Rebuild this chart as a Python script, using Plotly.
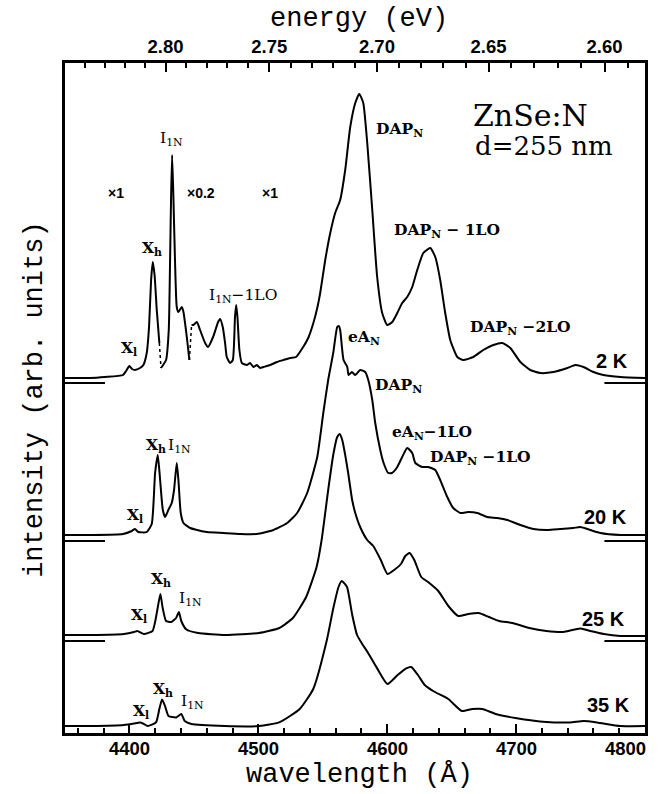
import plotly.graph_objects as go

# ---------------- data ----------------
# wavelength in Angstrom, intensity above each spectrum's zero line (arb. units)

# 2 K spectrum, split in three parts (middle part shown x0.2)
wl_2K_a = [4350, 4369.4, 4381.1, 4395.0, 4397.4, 4399.9, 4402.0, 4404.3, 4408.2, 4410.8,
           4413.4, 4415.2, 4416.8, 4418.1, 4419.5, 4421.2, 4423.2]
int_2K_a = [5, 5, 6, 8, 12, 17, 14, 13, 15, 18, 30, 56, 103, 121, 108, 73, 40]

wl_2K_b = [4424.5, 4428.4, 4430.5, 4431.5, 4432.3, 4433.1, 4434.1, 4435.4, 4436.7, 4438.0,
           4440.6, 4441.9, 4444.5, 4446.5]
int_2K_b = [75, 115, 265, 600, 930, 1140, 930, 600, 380, 355, 380, 355, 230, 115]
scale_2K_b = 0.2

wl_2K_c = [4448.2, 4449.6, 4452.3, 4454.8, 4458.7, 4461.0, 4464.9, 4468.8, 4470.3, 4472.4,
           4474.2, 4475.5, 4478.1, 4480.2, 4481.9, 4482.8, 4483.8, 4485.3, 4487.2, 4491.1,
           4493.6, 4496.2, 4498.8, 4501.4, 4504.0, 4509.2, 4514.4, 4519.5, 4524.7, 4529.3,
           4534.8, 4538.7, 4542.7, 4545.7, 4548.0, 4551.9, 4555.8, 4559.6, 4563.5, 4567.4,
           4571.3, 4575.2, 4578.3, 4581.4, 4584.5, 4588.4, 4592.2, 4596.1, 4600.0, 4603.9,
           4607.8, 4611.6, 4615.5, 4619.4, 4623.3, 4628.0, 4633.4, 4637.3, 4641.1, 4645.0,
           4648.9, 4654.4, 4659.0, 4666.8, 4674.5, 4682.3, 4689.3, 4695.5, 4703.3, 4711.0,
           4718.8, 4728.9, 4739.8, 4746.0, 4752.2, 4760.0, 4767.7, 4780.9, 4800]
int_2K_c = [58, 58, 61, 53, 40, 36, 46, 61, 64, 56,
            40, 26, 20, 23, 66, 78, 66, 33, 20, 18,
            20, 16, 18, 15, 16, 18, 21, 23, 25, 26,
            36, 45, 60, 75, 90, 123, 150, 170, 183, 213,
            256, 280, 289, 280, 240, 173, 106, 70, 58, 61,
            70, 80, 86, 96, 113, 130, 135, 126, 103, 70,
            43, 26, 23, 26, 33, 38, 40, 35, 21, 13,
            10, 11, 15, 18, 16, 11, 8, 6, 5]

wl_20K = [4350, 4369.4, 4395.0, 4401.8, 4404.3, 4406.9, 4413.4, 4417.3, 4419.9, 4422.0,
          4423.8, 4425.9, 4427.7, 4430.2, 4432.8, 4434.6, 4436.7, 4438.0, 4439.8, 4441.9,
          4447.1, 4460.0, 4472.9, 4485.9, 4498.8, 4511.7, 4522.4, 4530.1, 4537.9, 4545.7,
          4550.4, 4554.2, 4558.1, 4561.2, 4562.4, 4563.5, 4566.1, 4569.0, 4570.0, 4572.6,
          4575.2, 4579.0, 4582.9, 4585.3, 4588.4, 4590.7, 4594.6, 4597.2, 4600.8, 4603.7,
          4607.8, 4611.6, 4615.5, 4619.4, 4621.8, 4627.2, 4631.9, 4637.3, 4641.1, 4646.6,
          4651.2, 4656.7, 4662.9, 4669.9, 4677.6, 4685.4, 4693.2, 4703.3, 4713.4, 4724.2,
          4734.3, 4744.4, 4749.8, 4757.6, 4765.4, 4780.9, 4800]
int_20K = [6, 6, 7, 10, 12, 9, 9, 17, 68, 86,
           61, 31, 24, 31, 38, 51, 78, 61, 28, 18,
           13, 9, 8, 7, 7, 11, 18, 28, 48, 84,
           128, 161, 188, 214, 215, 211, 181, 174, 166, 169,
           166, 171, 169, 161, 141, 118, 91, 78, 68, 68,
           74, 84, 93, 88, 78, 74, 74, 71, 61, 44,
           33, 28, 29, 28, 24, 23, 21, 16, 12, 11,
           12, 13, 14, 11, 8, 6, 6]

wl_25K = [4350, 4369.4, 4395.7, 4403.6, 4406.1, 4411.3, 4417.9, 4419.9, 4421.9, 4424.0,
          4425.8, 4428.4, 4432.3, 4436.2, 4438.4, 4440.2, 4444.2, 4453.3, 4474.2, 4500.6,
          4516.3, 4526.8, 4537.1, 4545.2, 4549.1, 4554.2, 4558.1, 4561.2, 4563.1, 4565.1,
          4567.4, 4569.7, 4572.8, 4575.2, 4579.0, 4584.5, 4589.2, 4595.0, 4600.2, 4605.4,
          4610.7, 4614.0, 4617.3, 4621.0, 4626.4, 4631.7, 4639.6, 4647.4, 4655.1, 4662.9,
          4671.0, 4678.9, 4686.8, 4697.0, 4710.2, 4723.5, 4736.6, 4749.9, 4757.6, 4768.1,
          4780.9, 4800]
int_25K = [6, 6, 7, 9, 10, 7, 10, 19, 33, 47,
           33, 20, 19, 23, 29, 20, 11.5, 8, 6, 8,
           13, 23, 44, 74, 101, 151, 186, 204, 207, 201,
           186, 168, 141, 128, 114, 101, 95, 81, 67, 71,
           77, 85, 88, 81, 64, 59, 50, 35, 25, 27,
           28, 24, 20, 18, 13, 10, 9, 12.5, 10, 7,
           5, 5]

wl_35K = [4350, 4369.4, 4395.7, 4405.9, 4408.8, 4414.1, 4420.6, 4423.2, 4425.3, 4427.6,
          4430.3, 4436.3, 4440.2, 4442.9, 4448.1, 4474.2, 4500.6, 4516.1, 4532.1, 4542.6,
          4553.0, 4558.2, 4562.2, 4564.8, 4568.8, 4572.7, 4576.6, 4580.6, 4584.5, 4592.2,
          4600.2, 4608.1, 4614.7, 4618.6, 4623.8, 4629.1, 4637.0, 4647.4, 4657.9, 4666.0,
          4673.8, 4684.2, 4699.4, 4723.5, 4741.8, 4752.3, 4762.8, 4780.9, 4800]
int_35K = [5, 5, 6, 8, 8.6, 5, 8.6, 22, 31.5, 25,
           15, 13.6, 17, 10, 7, 5, 5, 8.6, 22, 42,
           90, 123, 144, 150, 144, 117, 96, 87, 79.5, 62.6,
           47, 56, 62.6, 64, 56, 46, 39, 32, 20, 22,
           22, 17, 13, 9, 8.6, 10, 8.6, 5, 5]

temperatures = ["2 K", "20 K", "25 K", "35 K"]
offsets = [350, 192, 92, 2]          # vertical offset of each spectrum's zero line

wl_ticks = [4400, 4500, 4600, 4700, 4800]
wl_minor = [4360, 4380, 4420, 4440, 4460, 4480, 4520, 4540, 4560, 4580, 4620, 4640,
            4660, 4680, 4720, 4740, 4760, 4780]
energy_ticks = [2.80, 2.75, 2.70, 2.65, 2.60]
energy_minor = [2.84, 2.83, 2.82, 2.81, 2.79, 2.78, 2.77, 2.76, 2.74, 2.73, 2.72, 2.71,
                2.69, 2.68, 2.67, 2.66, 2.64, 2.63, 2.62, 2.61, 2.59]
HC = 12398.4  # eV*Angstrom

# ---------------- figure ----------------
fig = go.Figure()


def add_curve(x, y, dash="solid", width=2, xaxis="x"):
    fig.add_trace(go.Scatter(x=x, y=y, mode="lines", xaxis=xaxis,
                             line=dict(color="black", width=width, dash=dash,
                                       shape="spline", smoothing=0.5),
                             showlegend=False, hoverinfo="skip"))


o2 = offsets[0]
ya = [v + o2 for v in int_2K_a]
yb = [v * scale_2K_b + o2 for v in int_2K_b]
yc = [v + o2 for v in int_2K_c]
add_curve(wl_2K_a, ya)
add_curve(wl_2K_b, yb)
add_curve(wl_2K_c, yc)
add_curve([wl_2K_a[-1], wl_2K_b[0]], [ya[-1], yb[0]], dash="dot", width=1.5)
add_curve([wl_2K_b[-1], wl_2K_c[0]], [yb[-1], yc[0]], dash="dot", width=1.5)

for wl, it, off in [(wl_20K, int_20K, offsets[1]), (wl_25K, int_25K, offsets[2]),
                    (wl_35K, int_35K, offsets[3])]:
    add_curve(wl, [v + off for v in it])

# zero-line markers at both sides
for off in offsets[:3]:
    for xs in ([4350, 4381], [4768.5, 4800]):
        fig.add_trace(go.Scatter(x=xs, y=[off, off], mode="lines",
                                 line=dict(color="black", width=2),
                                 showlegend=False, hoverinfo="skip"))
# invisible trace to activate the top energy axis
fig.add_trace(go.Scatter(x=[4350, 4800], y=[0, 0], mode="lines", xaxis="x2",
                         line=dict(color="rgba(0,0,0,0)", width=0),
                         showlegend=False, hoverinfo="skip"))

TICKFONT = dict(family="Liberation Sans", size=18.5, color="black", weight="bold")

fig.update_layout(
    width=668, height=794,
    margin=dict(l=65, r=23, t=63, b=61),
    paper_bgcolor="white", plot_bgcolor="white",
    xaxis=dict(range=[4350, 4800], showline=True, linewidth=2.5, linecolor="black",
               ticks="inside", tickvals=wl_ticks, ticklen=9, tickwidth=1.5, tickcolor="black",
               showticklabels=False, showgrid=False, zeroline=False,
               minor=dict(tickvals=wl_minor, ticks="inside", ticklen=5, tickwidth=1.5,
                          tickcolor="black", showgrid=False)),
    xaxis2=dict(range=[4350, 4800], overlaying="x", side="top", showline=True,
                linewidth=2.5, linecolor="black", ticks="inside",
                tickvals=[HC / e for e in energy_ticks],
                ticktext=["%.2f" % e for e in energy_ticks],
                ticklen=9, tickwidth=1.5, tickcolor="black", tickfont=TICKFONT,
                showgrid=False, zeroline=False,
                minor=dict(tickvals=[HC / e for e in energy_minor], ticks="inside",
                           ticklen=5, tickwidth=1.5, tickcolor="black", showgrid=False)),
    yaxis=dict(range=[0, 670], showline=True, mirror=True, linewidth=2.5, linecolor="black",
               showticklabels=False, ticks="", showgrid=False, zeroline=False),
)

ann = []
# bottom wavelength tick labels
for v in wl_ticks:
    ann.append(dict(x=v, y=-0.0224, xref="x", yref="paper", text=str(v), showarrow=False,
                    xanchor="center", yanchor="middle", font=TICKFONT,
                    xshift=-20 if v == 4800 else 0))

SERIF = "DejaVu Serif"
MONO = "Liberation Mono"
ann.append(dict(x=0.507, y=1.066, xref="paper", yref="paper", text="energy (eV)", showarrow=False,
                xanchor="center", yanchor="middle",
                font=dict(family=MONO, size=27, color="black")))
ann.append(dict(x=0.507, y=-0.063, xref="paper", yref="paper", text="wavelength (Å)",
                xanchor="center", yanchor="middle",
                showarrow=False, font=dict(family=MONO, size=27, color="black")))
ann.append(dict(x=-0.052, y=0.497, xref="paper", yref="paper", text="intensity (arb. units)",
                xanchor="center", yanchor="middle",
                showarrow=False, textangle=-90, font=dict(family=MONO, size=27, color="black")))

LBL = dict(family=SERIF, size=15.5, color="black", weight="bold")
LBLR = dict(family=SERIF, size=15.5, color="black")
SANS = dict(family="Liberation Sans", size=14, color="black", weight="bold")
TEMP = dict(family="Liberation Sans", size=20, color="black", weight="bold")

labels = [
    ("×1", 4389.6, 540, SANS), ("×0.2", 4455.6, 540, SANS), ("×1", 4509.2, 540, SANS),
    ("I<sub>1N</sub>", 4432.3, 594, LBLR), ("X<sub>h</sub>", 4417.5, 485, LBL),
    ("X<sub>l</sub>", 4399.7, 385, LBL), ("I<sub>1N</sub>−1LO", 4488.2, 437, LBLR),
    ("DAP<sub>N</sub>", 4609.3, 604, LBL), ("DAP<sub>N</sub> − 1LO", 4646.6, 503, LBL),
    ("DAP<sub>N</sub> −2LO", 4703.3, 406, LBL),
    ("eA<sub>N</sub>", 4582.1, 396, LBL), ("DAP<sub>N</sub>", 4608.5, 348, LBL),
    ("eA<sub>N</sub>−1LO", 4634.9, 301, LBL), ("DAP<sub>N</sub> −1LO", 4672.2, 276, LBL),
    ("X<sub>h</sub>", 4420.7, 288, LBL), ("I<sub>1N</sub>", 4438.5, 287, LBLR),
    ("X<sub>l</sub>", 4404.3, 218, LBL),
    ("X<sub>h</sub>", 4424.5, 154, LBL), ("I<sub>1N</sub>", 4447.1, 134, LBLR),
    ("X<sub>l</sub>", 4407.5, 118, LBL),
    ("X<sub>h</sub>", 4426.1, 44, LBL), ("I<sub>1N</sub>", 4448.6, 31, LBLR),
    ("X<sub>l</sub>", 4409.0, 22, LBL),
    ("2 K", 4774.7, 372, TEMP), ("20 K", 4769.3, 216, TEMP), ("25 K", 4767.7, 114, TEMP),
    ("35 K", 4771.6, 28, TEMP),
    ("ZnSe:N", 4711.0, 618, dict(family=SERIF, size=30, color="black")),
    ("d=255 nm", 4721.9, 587, dict(family=SERIF, size=26, color="black")),
]
for t, x, y, f in labels:
    ann.append(dict(x=x, y=y, xref="x", yref="y", text=t, showarrow=False, font=f,
                    xanchor="center", yanchor="middle"))

fig.update_layout(annotations=ann)
fig.write_html("out.html")
